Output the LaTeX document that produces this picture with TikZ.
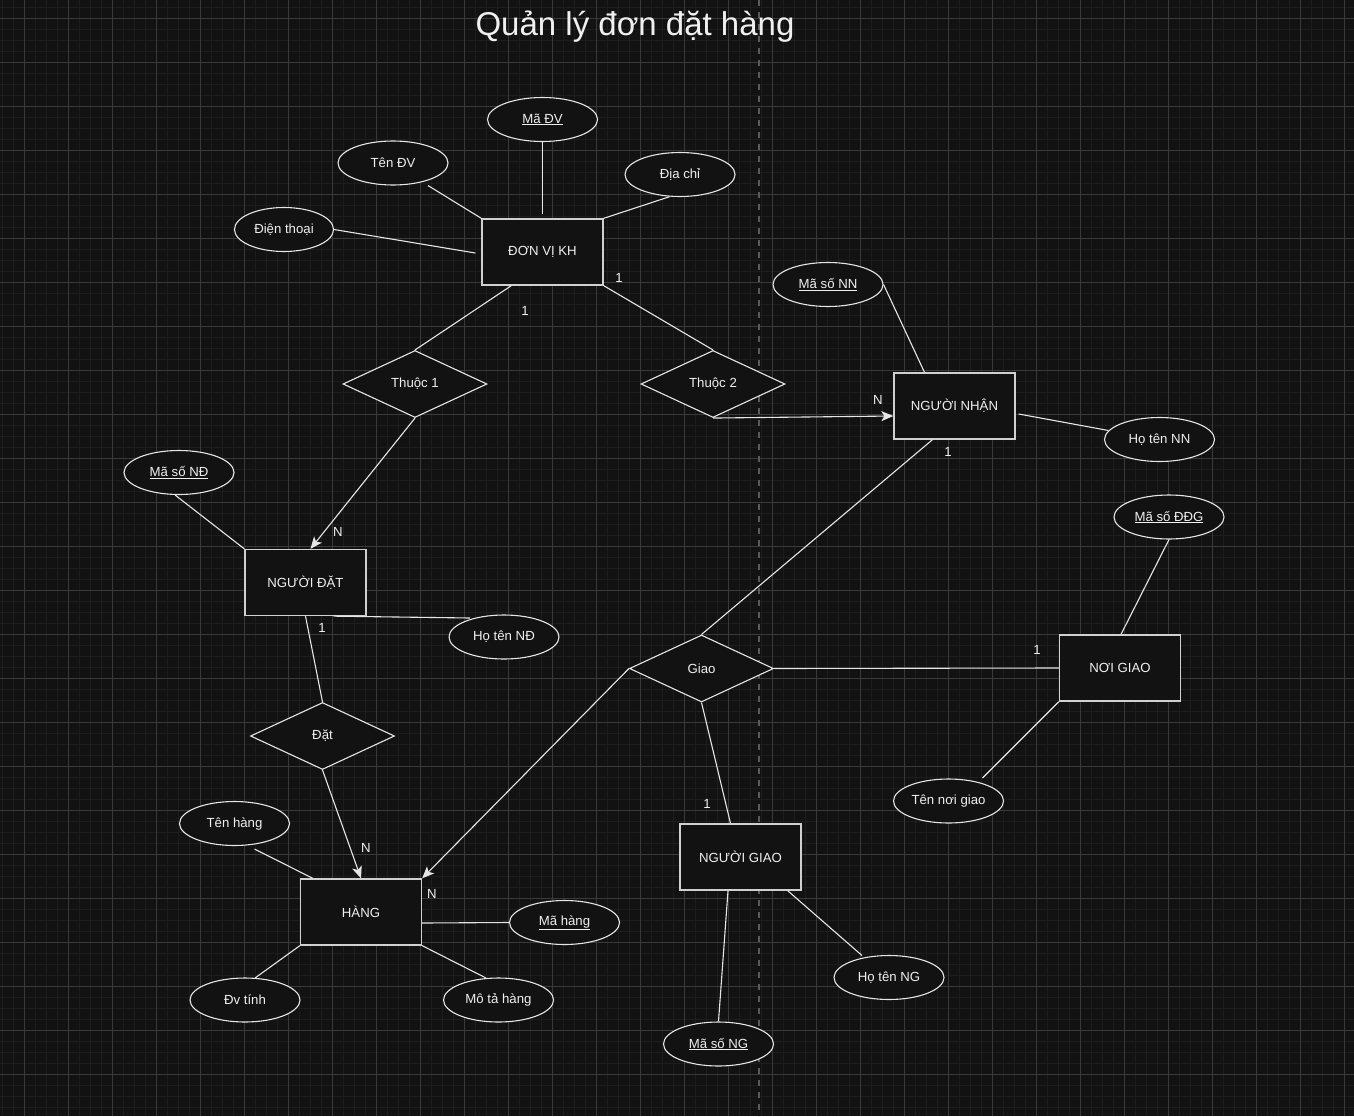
\documentclass[tikz,border=0pt]{standalone}
\usepackage{fontspec}
\setmainfont{Liberation Sans}
\usetikzlibrary{shapes.geometric,arrows.meta,calc}
\definecolor{bgc}{HTML}{121212}
\definecolor{minorc}{HTML}{1D1D1D}
\definecolor{majorc}{HTML}{3A3A3A}
\definecolor{dashc}{HTML}{5A5A5A}
\definecolor{linec}{HTML}{E6E6E6}
\definecolor{txtc}{HTML}{F0F0F0}
\definecolor{boxc}{HTML}{D0D0D0}
\tikzset{
  lbl/.style={font=\fontsize{13.2}{15}\selectfont, text=txtc},
  entity/.style={lbl, draw=boxc, fill=bgc, line width=1.3pt, minimum width=121pt, minimum height=66pt, inner sep=0pt},
  relation/.style={lbl, diamond, draw=linec, fill=bgc, line width=1.1pt, minimum width=144pt, minimum height=67pt, inner sep=0pt},
  attr/.style={lbl, ellipse, draw=linec, fill=bgc, line width=1.1pt, minimum width=110pt, minimum height=44pt, inner sep=0pt},
  conn/.style={draw=linec, line width=1.1pt},
  arr/.style={conn, -{Stealth[length=12pt,width=10pt,inset=3pt]}},
  card/.style={lbl, inner sep=0pt},
}
\begin{document}
\begin{tikzpicture}[x=1pt,y=-1pt]
\fill[bgc] (0,0) rectangle (1354,1116);
\useasboundingbox (0,0) rectangle (1354,1116);
% grid
\foreach \i in {-2,...,121} \draw[minorc, line width=1pt] ({24.3+11*\i},0) -- ({24.3+11*\i},1116);
\foreach \j in {-1,...,99} \draw[minorc, line width=1pt] (0,{18.3+11*\j}) -- (1354,{18.3+11*\j});
\foreach \i in {0,...,30} \draw[majorc, line width=1pt] ({24.3+44*\i},0) -- ({24.3+44*\i},1116);
\foreach \j in {0,...,25} \draw[majorc, line width=1pt] (0,{18.3+44*\j}) -- (1354,{18.3+44*\j});
% divider
\draw[dashc, line width=2pt, dash pattern=on 6pt off 6pt] (759,0) -- (759,1116);

% title
\node[text=txtc, font=\fontsize{33}{38}\selectfont] (title) at (635,27) {Quản lý đơn đặt hàng};

% entities
\node[entity] (dv) at (542.5,252) {ĐƠN VỊ KH};
\node[entity] (nn) at (954.5,406) {NGƯỜI NHẬN};
\node[entity] (nd) at (305.5,582.5) {NGƯỜI ĐẶT};
\node[entity] (hang) at (361,912) {HÀNG};
\node[entity] (ng) at (1120,668) {NƠI GIAO};
\node[entity] (ngg) at (740.5,857) {NGƯỜI GIAO};

% relations
\node[relation] (th1) at (415,384) {Thuộc 1};
\node[relation] (th2) at (713,384) {Thuộc 2};
\node[relation] (dat) at (322.5,736) {Đặt};
\node[relation] (giao) at (701.5,668.5) {Giao};

% attributes
\node[attr] (madv) at (542.5,119.5) {\underline{Mã ĐV}};
\node[attr] (tendv) at (393,163) {Tên ĐV};
\node[attr] (diachi) at (680,174.5) {Địa chỉ};
\node[attr, minimum width=99pt] (dienthoai) at (284,229.5) {Điện thoại};
\node[attr] (mann) at (828,284.5) {\underline{Mã số NN}};
\node[attr] (hotennn) at (1159.5,439.5) {Họ tên NN};
\node[attr] (maddg) at (1169,517) {\underline{Mã số ĐĐG}};
\node[attr] (mand) at (179,472.5) {\underline{Mã số NĐ}};
\node[attr] (hotennd) at (504,637) {Họ tên NĐ};
\node[attr] (tenhang) at (234.5,823.5) {Tên hàng};
\node[attr] (mahang) at (564.5,922.5) {\underline{Mã hàng}};
\node[attr] (dvtinh) at (245,1000) {Đv tính};
\node[attr] (mota) at (498.5,1000) {Mô tả hàng};
\node[attr] (tennoigiao) at (948.5,801) {Tên nơi giao};
\node[attr] (hotenng) at (889,977.5) {Họ tên NG};
\node[attr] (mang) at (718.5,1044) {\underline{Mã số NG}};

% attribute connectors
\draw[conn] (madv.south) -- ($(dv.north)+(0,-4)$);
\draw[conn] ($(tendv.south)+(35,0)$) -- (dv.north west);
\draw[conn] (diachi.-115) -- (dv.north east);
\draw[conn] (dienthoai.east) -- ($(dv.west)+(-6,1)$);
\draw[conn] (mann.east) -- ($(nn.north)+(-30,0)$);
\draw[conn] ($(nn.east)+(3,8)$) -- ($(hotennn.center)+(-51,-9)$);
\draw[conn] (maddg.south) -- ($(ng.north)+(1,0)$);
\draw[conn] ($(tennoigiao.center)+(34,-23)$) -- (ng.south west);
\draw[conn] (mand.-100) -- (nd.north west);
\draw[conn] ($(nd.south)+(28,0)$) -- ($(hotennd.center)+(-34,-19)$);
\draw[conn] ($(tenhang.center)+(20,25.5)$) -- ($(hang.north west)+(13,0)$);
\draw[conn] ($(hang.east)+(0,11)$) -- (mahang.west);
\draw[conn] ($(dvtinh.center)+(10,-22)$) -- (hang.south west);
\draw[conn] (hang.south east) -- ($(mota.center)+(-12.5,-22)$);
\draw[conn] ($(ngg.south)+(-12.5,0)$) -- (mang.north);
\draw[conn] ($(ngg.south east)+(-14,0)$) -- ($(hotenng.center)+(-27,-22)$);

% relationship connectors
\draw[conn] ($(dv.south west)+(30,0)$) -- (th1.north);
\draw[conn] (dv.south east) -- (th2.north);
\draw[arr] (th1.south) -- ($(nd.north)+(5,0)$);
\draw[arr] (th2.south) -- ($(nn.west)+(0,10)$);
\draw[conn] ($(nn.south)+(-22,0)$) -- (giao.north);
\draw[arr] (giao.west) -- (hang.north east);
\draw[conn] (giao.east) -- (ng.west);
\draw[conn] (giao.south) -- ($(ngg.north)+(-10,0)$);
\draw[conn] (nd.south) -- (dat.north);
\draw[arr] (dat.south) -- (hang.north);

% cardinalities
\node[card] (c1) at (525,311) {1};
\node[card] (c2) at (619,278) {1};
\node[card] (c3) at (338,532) {N};
\node[card] (c4) at (878,400) {N};
\node[card] (c5) at (948,452) {1};
\node[card] (c6) at (432,894) {N};
\node[card] (c7) at (1037,650) {1};
\node[card] (c8) at (707,804) {1};
\node[card] (c9) at (322,628) {1};
\node[card] (c10) at (366,848) {N};
\end{tikzpicture}
\end{document}
